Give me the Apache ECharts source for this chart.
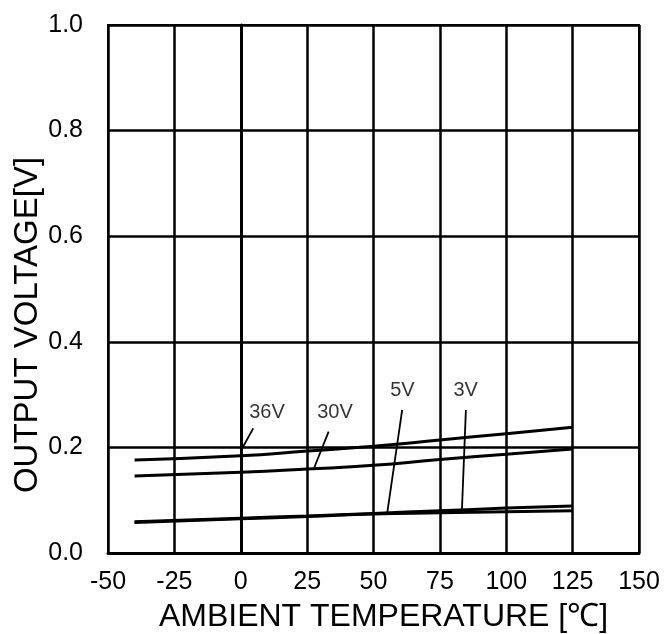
<!DOCTYPE html>
<html>
<head>
<meta charset="utf-8">
<script src="https://cdn.jsdelivr.net/npm/echarts@6/dist/echarts.min.js"></script>
<style>html,body{margin:0;padding:0;background:#fff}#c{width:666px;height:634px}</style>
</head>
<body>
<div id="c"></div>
<script>
// Data
var temps = [-40, 0, 25, 50, 75, 100, 125];
var v36 = [0.176, 0.184, 0.193, 0.202, 0.214, 0.226, 0.238];
var v30 = [0.146, 0.153, 0.159, 0.166, 0.177, 0.187, 0.197];
var v5  = [0.059, 0.066, 0.070, 0.075, 0.080, 0.085, 0.089];
var v3  = [0.058, 0.065, 0.069, 0.074, 0.076, 0.078, 0.080];
var xTicks = [-50, -25, 0, 25, 50, 75, 100, 125, 150];
var yTicks = [0.0, 0.2, 0.4, 0.6, 0.8, 1.0];
// annotation labels and pointer lines (data coordinates)
var annoNames = ['36V', '30V', '5V', '3V'];
var annoLabelPos = [[9.9, 0.267], [35.5, 0.267], [60.9, 0.307], [84.7, 0.307]];
var annoLineFrom = [[4.7, 0.236], [33.1, 0.230], [60.8, 0.271], [84.8, 0.271]];
var annoLineTo = [[0.5, 0.198], [27.7, 0.162], [55.1, 0.073], [83.3, 0.081]];

function pairs(xs, ys) { return xs.map(function (x, i) { return [x, ys[i]]; }); }

var FONT = '"Liberation Sans", Arial, Helvetica, sans-serif';
var lineSeries = [v36, v30, v5, v3].map(function (vals, i) {
  return {
    type: 'line', name: annoNames[i], data: pairs(temps, vals), smooth: true,
    symbol: 'none', lineStyle: { color: '#000', width: 3 }, z: 5, silent: true
  };
});

var chart = echarts.init(document.getElementById('c'));
chart.setOption({
  animation: false,
  backgroundColor: '#fff',
  grid: { left: 108, right: 27, top: 25, bottom: 81, show: true, borderColor: '#000', borderWidth: 2,
    containLabel: false, outerBoundsMode: 'none' },
  xAxis: {
    type: 'value', min: xTicks[0], max: xTicks[xTicks.length - 1], interval: 25,
    name: 'AMBIENT TEMPERATURE [\u2103]', nameLocation: 'middle', nameGap: 48,
    nameTextStyle: { fontFamily: FONT, fontSize: 32, color: '#000', padding: [0, 0, 0, 20] },
    axisLine: { lineStyle: { color: '#000', width: 3 } },
    axisTick: { show: false },
    axisLabel: { fontFamily: FONT, fontSize: 25, color: '#000', margin: 17 },
    splitLine: { show: true, lineStyle: { color: '#000', width: 2.5 } }
  },
  yAxis: {
    type: 'value', min: yTicks[0], max: yTicks[yTicks.length - 1], interval: 0.2,
    name: 'OUTPUT VOLTAGE[V]', nameLocation: 'middle', nameGap: 64, nameMoveOverlap: false,
    nameTextStyle: { fontFamily: FONT, fontSize: 33, color: '#000', padding: [0, 72, 0, 0] },
    axisLine: { show: true, lineStyle: { color: '#000', width: 3 } },
    axisTick: { show: false },
    axisLabel: { fontFamily: FONT, fontSize: 25, color: '#000', margin: 25,
      formatter: function (v) { return v.toFixed(1); } },
    splitLine: { show: true, lineStyle: { color: '#000', width: 2.5 } }
  },
  series: lineSeries.concat([
    {
      type: 'lines', coordinateSystem: 'cartesian2d', silent: true, z: 6,
      lineStyle: { color: '#000', width: 1.8, opacity: 1 },
      data: annoLineFrom.map(function (p, i) { return { coords: [p, annoLineTo[i]] }; })
    },
    {
      type: 'scatter', symbolSize: 0, silent: true, z: 7,
      data: annoLabelPos.map(function (p, i) { return { value: p, name: annoNames[i] }; }),
      label: { show: true, position: 'inside', formatter: '{b}', fontFamily: FONT, fontSize: 20, color: '#000' }
    }
  ])
});
</script>
</body>
</html>
